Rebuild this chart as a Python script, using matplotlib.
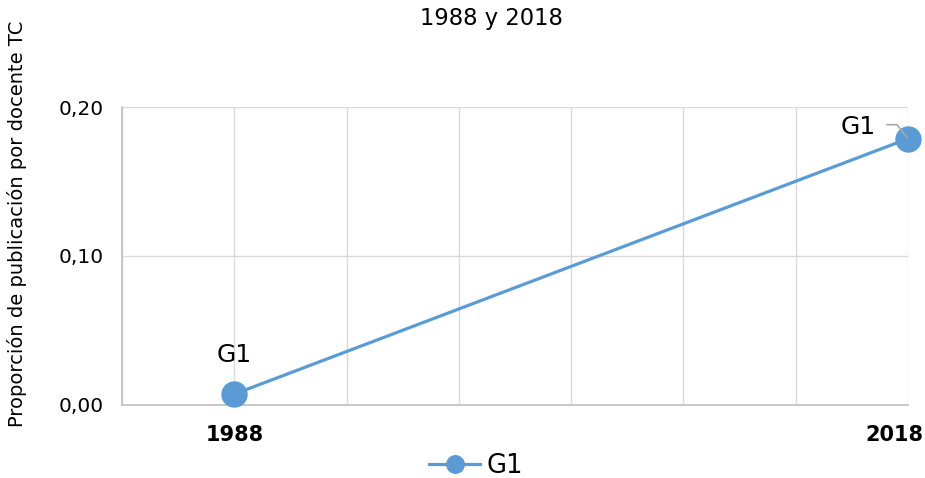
import matplotlib
matplotlib.use("Agg")
import matplotlib.pyplot as plt
from matplotlib.transforms import ScaledTranslation, IdentityTransform
from matplotlib.lines import Line2D

years = [1988, 2018]
values = [0.007, 0.179]
series_name = "G1"
title = "1988 y 2018"
ylabel = "Proporción de publicación por docente TC"
x_grid = [1983, 1988, 1993, 1998, 2003, 2008, 2013, 2018]
x_labels = ["", "1988", "", "", "", "", "", "2018"]
y_ticks = [0.0, 0.10, 0.20]
y_labels = ["0,00", "0,10", "0,20"]

blue = "#5b9bd5"
grid = "#d9d9d9"

fig = plt.figure(figsize=(9.25, 4.78), dpi=100)
ax = fig.add_axes([122/925, 1-404.5/478, (908-122)/925, (404.5-107.5)/478])

ax.plot(years, values, color=blue, lw=2.3, marker="o", ms=18, mfc=blue, mec=blue,
        label=series_name, zorder=3, clip_on=False)

ax.set_xlim(1983, 2018)
ax.set_ylim(0, 0.20)
ax.set_xticks(x_grid)
ax.set_xticklabels(x_labels, fontsize=15, fontweight="bold", color="black")
ax.set_yticks(y_ticks)
ax.set_yticklabels(y_labels, fontsize=14.5, color="black")
ax.tick_params(axis="both", length=0)
ax.tick_params(axis="x", pad=15)
ax.tick_params(axis="y", pad=13)
lbls = ax.get_xticklabels()
lbls[-1].set_transform(lbls[-1].get_transform() + ScaledTranslation(-0.14, 0, fig.dpi_scale_trans))

ax.grid(True, color=grid, lw=1.0)
ax.set_axisbelow(True)
for side in ["top", "right"]:
    ax.spines[side].set_visible(False)
for side in ["left", "bottom"]:
    ax.spines[side].set_color("#bfbfbf")
    ax.spines[side].set_linewidth(1.2)

ax.set_ylabel(ylabel, fontsize=14, color="black")
ax.yaxis.set_label_coords(-(122-27)/786, 0.608)
fig.text(491/925, 1-18/478, title, ha="center", va="center", fontsize=16.3, color="black")

ax.annotate(series_name, (years[0], values[0]), xytext=(0, 28), textcoords="offset points",
            ha="center", va="center", fontsize=18)
ax.annotate(series_name, (years[1], values[1]), xytext=(-36, 8.5), textcoords="offset points",
            ha="center", va="center", fontsize=18)
fig.canvas.draw()
px, py = ax.transData.transform((years[1], values[1]))
leader = Line2D([px - 21, px - 11, px - 1], [py + 14, py + 14, py + 1], color="#a6a6a6",
                lw=1.2, transform=IdentityTransform(), zorder=4)
fig.add_artist(leader)

leg = fig.legend(loc="center", bbox_to_anchor=(476/925, 1-466/478), frameon=False,
                 fontsize=18.5, handlelength=2.0, handletextpad=0.25, markerscale=0.7)

fig.savefig("out.png", dpi=100)
